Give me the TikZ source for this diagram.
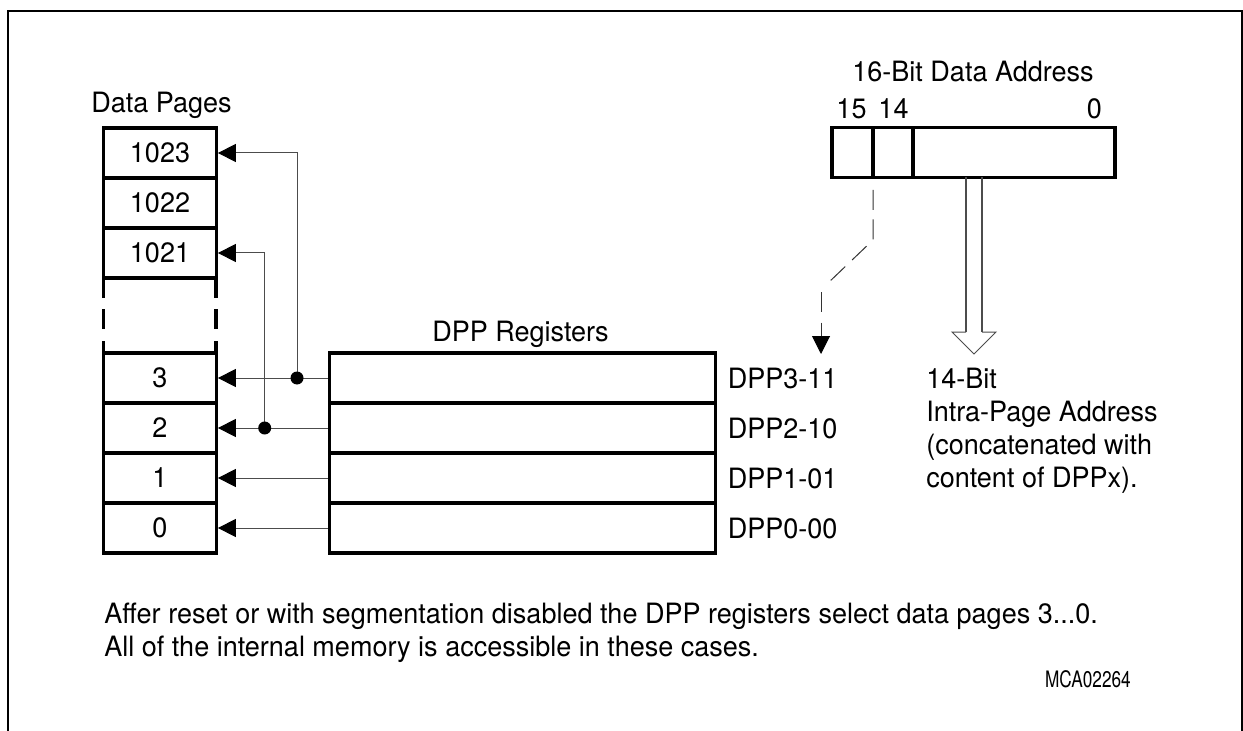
\documentclass[tikz,border=0pt]{standalone}
\usepackage{fontspec}
\setmainfont[FakeStretch=0.965]{TeX Gyre Heros}
\newfontfamily\mcfont[FakeStretch=0.76]{TeX Gyre Heros}
\usetikzlibrary{arrows.meta}
\tikzset{
  x=0.75pt,y=-0.75pt,
  thick line/.style={line width=2.4pt,black},
  thin line/.style={line width=0.75pt,black!70},
  solidhead/.style={-{Triangle[length=13.5pt,width=13.5pt,color=black,fill=black]}},
  lbl/.style={inner sep=0pt,font=\fontsize{21}{24}\selectfont},
  small/.style={inner sep=0pt,font=\mcfont\fontsize{17}{20}\selectfont},
  cell/.style={thick line,draw,minimum width=84.4pt,minimum height=37.5pt,inner sep=0pt,font=\fontsize{21}{24}\selectfont,anchor=center},
  reg/.style={thick line,draw,minimum width=290pt,minimum height=37.5pt,inner sep=0pt,anchor=center},
  field/.style={thick line,draw,minimum height=37.5pt,inner sep=0pt,anchor=center},
  dot/.style={circle,fill=black,inner sep=0pt,minimum size=9.75pt}
}
\begin{document}
\begin{tikzpicture}
\useasboundingbox (0,0) rectangle (1243,731);
\fill[white] (0,0) rectangle (1243,731);
\draw[line width=1.5pt] (7.5,731) -- (7.5,11) -- (1242,11) -- (1242,731);
\node[lbl,anchor=base west] (dp) at (91,113) {Data Pages};
\node[cell] (p1023) at (160,153) {1023};
\node[cell] (p1022) at (160,203) {1022};
\node[cell] (p1021) at (160,253) {1021};
\node[cell] (p3) at (160,378) {3};
\node[cell] (p2) at (160,428) {2};
\node[cell] (p1) at (160,478) {1};
\node[cell] (p0) at (160,528) {0};
\draw[thick line] (103.5,278) -- (103.5,298) (216,278) -- (216,298)
  (103.5,309) -- (103.5,329) (216,309) -- (216,329)
  (103.5,341) -- (103.5,353) (216,341) -- (216,353);
\node[lbl,anchor=base] (regs) at (520.5,341) {DPP Registers};
\node[reg] (r3) at (522.5,378) {};
\node[reg] (r2) at (522.5,428) {};
\node[reg] (r1) at (522.5,478) {};
\node[reg] (r0) at (522.5,528) {};
\node[lbl,anchor=base west] (l3) at (727.5,388) {DPP3-11};
\node[lbl,anchor=base west] (l2) at (727.5,438) {DPP2-10};
\node[lbl,anchor=base west] (l1) at (727.5,488) {DPP1-01};
\node[lbl,anchor=base west] (l0) at (727.5,538) {DPP0-00};
\coordinate (j3) at (297,378);
\coordinate (j2) at (264.7,428);
\draw[thin line,solidhead] (r3.west) -- (p3.east);
\draw[thin line,solidhead] (r2.west) -- (p2.east);
\draw[thin line,solidhead] (r1.west) -- (p1.east);
\draw[thin line,solidhead] (r0.west) -- (p0.east);
\draw[thin line,solidhead] (j3) |- (p1023.east);
\draw[thin line,solidhead] (j2) |- (p1021.east);
\node[dot] at (j3) {};
\node[dot] at (j2) {};
\node[lbl,anchor=base] (title) at (973,82) {16-Bit Data Address};
\node[lbl,anchor=base] (b15) at (851.5,119) {15};
\node[lbl,anchor=base] (b14) at (893.5,119) {14};
\node[lbl,anchor=base] (b0) at (1094.5,119) {0};
\node[field,minimum width=30.75pt] (f15) at (852.5,152.5) {};
\node[field,minimum width=30pt] (f14) at (893,152.5) {};
\node[field,minimum width=151.5pt] (f0) at (1014,152.5) {};
\coordinate (d0) at (873,190);
\coordinate (d1) at (873,240);
\coordinate (d2) at (827,284);
\coordinate (d2b) at (821,292);
\coordinate (d3) at (821,337);
\coordinate (d4) at (821,354);
\draw[line width=0.75pt,black!80,dash pattern=on 15pt off 7.1pt] (d0) -- (d1) -- (d2);
\draw[line width=0.75pt,black!80,dash pattern=on 15pt off 8pt] (d2b) -- (d3);
\draw[line width=0.75pt,black!80,solidhead] (d3) -- (d4);
\draw[thin line,line width=1pt] (966,177) -- (966,332);
\draw[thin line,line width=1pt] (982,332) -- (982,177);
\draw[thin line] (966,332) -- (952,332) -- (974,354) -- (996,332) -- (982,332);
\node[lbl,anchor=base west] (n14) at (926,388) {14-Bit};
\node[lbl,anchor=base west] (n14b) at (926,421.5) {Intra-Page Address};
\node[lbl,anchor=base west] (n14c) at (926,454.5) {(concatenated with};
\node[lbl,anchor=base west] (n14d) at (926,487.5) {content of DPPx).};
\node[lbl,anchor=base west] (c1) at (104,623) {Affer reset or with segmentation disabled the DPP registers select data pages 3...0.};
\node[lbl,anchor=base west] (c2) at (104,656.5) {All of the internal memory is accessible in these cases.};
\node[small,anchor=base east] (mc) at (1131,687) {MCA02264};
\end{tikzpicture}
\end{document}
